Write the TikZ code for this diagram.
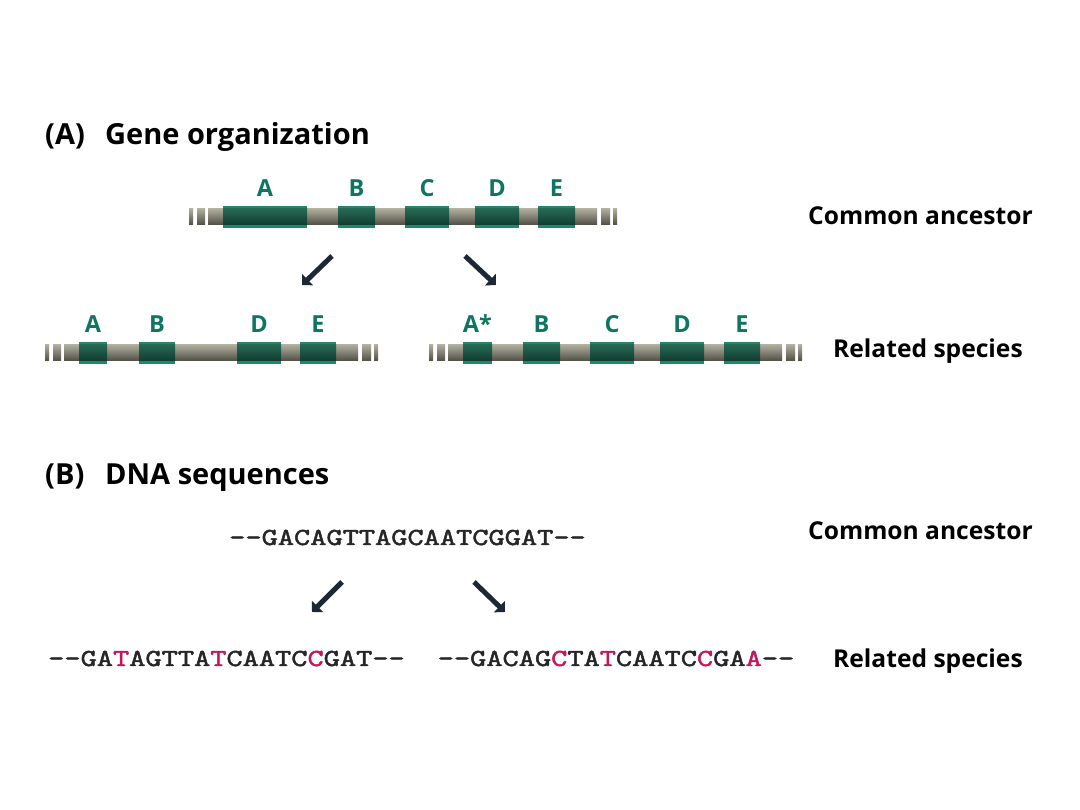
\documentclass[tikz,border=0pt]{standalone}
\usepackage{fontspec}
\setmainfont{Open Sans}
\newfontfamily\seqfont{lmmono10-regular}[Extension=.otf, FakeStretch=1.26, FakeBold=2]
\usetikzlibrary{positioning, arrows.meta}
\definecolor{GeneTop}{HTML}{2B705B}
\definecolor{GeneBot}{HTML}{0C3328}
\definecolor{GeneLite}{HTML}{1E8A6C}
\definecolor{GeneText}{HTML}{0E7560}
\definecolor{BarLite}{HTML}{E2E0CE}
\definecolor{BarDark}{HTML}{34342A}
\definecolor{Mut}{HTML}{C2185B}
\definecolor{Ink}{HTML}{1C2833}
\definecolor{Seq}{HTML}{262626}
\tikzset{
    bar/.style={top color=BarDark!30!BarLite, middle color=BarLite, bottom color=BarDark!85!BarLite},
    gene/.style={rectangle, fill=GeneLite, minimum height=22pt, inner sep=0pt,
        path picture={\shade[top color=GeneTop, bottom color=GeneBot]
            ([yshift=-3pt]path picture bounding box.north west) rectangle
            ([yshift=3pt]path picture bounding box.south east);}},
    genelbl/.style={font=\fontsize{23.5}{25}\bfseries\selectfont, text=GeneText, inner sep=1pt},
    title/.style={anchor=base west, font=\fontsize{29}{31}\bfseries\selectfont, inner sep=0pt},
    side/.style={anchor=base west, font=\fontsize{24.6}{26}\bfseries\selectfont, inner sep=0pt},
    seq/.style={anchor=base, font=\fontsize{24.5}{26}\seqfont\selectfont, text=Seq, inner sep=0pt},
    split/.style={line width=5pt, color=Ink, -{Triangle[angle=90:11pt]}},
}
% chromosome bar: left x, right x, centre y
\newcommand{\chromo}[3]{%
    \fill[bar] (#1-19,#3-8) rectangle (#1-15,#3+8);
    \fill[bar] (#1-11,#3-8) rectangle (#1-3,#3+8);
    \fill[bar] (#1,#3-8) rectangle (#2,#3+8);
    \fill[bar] (#2+4,#3-8) rectangle (#2+13,#3+8);
    \fill[bar] (#2+16,#3-8) rectangle (#2+20,#3+8);
}
\begin{document}
\begin{tikzpicture}[x=1pt, y=1pt]
    \useasboundingbox (0,0) rectangle (1080,810);

    % (A) Gene organization
    \node[title] (tA) at (45,665) {(A)};
    \node[title] (tAtxt) at (105,665) {Gene organization};

    % Ancestor
    \chromo{208}{597}{593}
    \foreach \n/\x/\w in {A/265/84, B/356.5/37, C/427/44, D/497/44, E/556.5/37}{
        \node[gene, minimum width=\w pt] (ga\n) at (\x,593) {};
        \node[genelbl, above=8pt of ga\n] (la\n) {\n};
    }
    \node[side] (ancA) at (808,585) {Common ancestor};

    % Split arrows
    \coordinate (a1s) at (332,554);
    \coordinate (a1e) at (302,525);
    \coordinate (a2s) at (465,554);
    \coordinate (a2e) at (496,525);
    \draw[split] (a1s) -- (a1e);
    \draw[split] (a2s) -- (a2e);

    % Related species (left)
    \chromo{64}{358}{457}
    \foreach \n/\x/\w in {A/93/28, B/157/36, D/259/44, E/318/36}{
        \node[gene, minimum width=\w pt] (gl\n) at (\x,457) {};
        \node[genelbl, above=8pt of gl\n] (ll\n) {\n};
    }

    % Related species (right)
    \chromo{448}{782}{457}
    \foreach \n/\t/\x/\w in {A/A*/477.5/29, B/B/541.5/37, C/C/612/44, D/D/682/44, E/E/742/36}{
        \node[gene, minimum width=\w pt] (gr\n) at (\x,457) {};
        \node[genelbl, above=8pt of gr\n] (lr\n) {\t};
    }
    \node[side] (relA) at (833,452) {Related species};

    % (B) DNA sequences
    \node[title] (tB) at (45,325) {(B)};
    \node[title] (tBtxt) at (105,325) {DNA sequences};

    \node[seq] (sAnc) at (407.5,265) {--GACAGTTAGCAATCGGAT--};
    \node[side] (ancB) at (808,270) {Common ancestor};

    \coordinate (b1s) at (342,228);
    \coordinate (b1e) at (312,198);
    \coordinate (b2s) at (474,228);
    \coordinate (b2e) at (505,198);
    \draw[split] (b1s) -- (b1e);
    \draw[split] (b2s) -- (b2e);

    \node[seq] (sLeft) at (226.5,144) {--GA\textcolor{Mut}{T}AGTTA\textcolor{Mut}{T}CAATC\textcolor{Mut}{C}GAT--};
    \node[seq] (sRight) at (616,144) {--GACAG\textcolor{Mut}{C}TA\textcolor{Mut}{T}CAATC\textcolor{Mut}{C}GA\textcolor{Mut}{A}--};
    \node[side] (relB) at (833,142) {Related species};
\end{tikzpicture}
\end{document}
